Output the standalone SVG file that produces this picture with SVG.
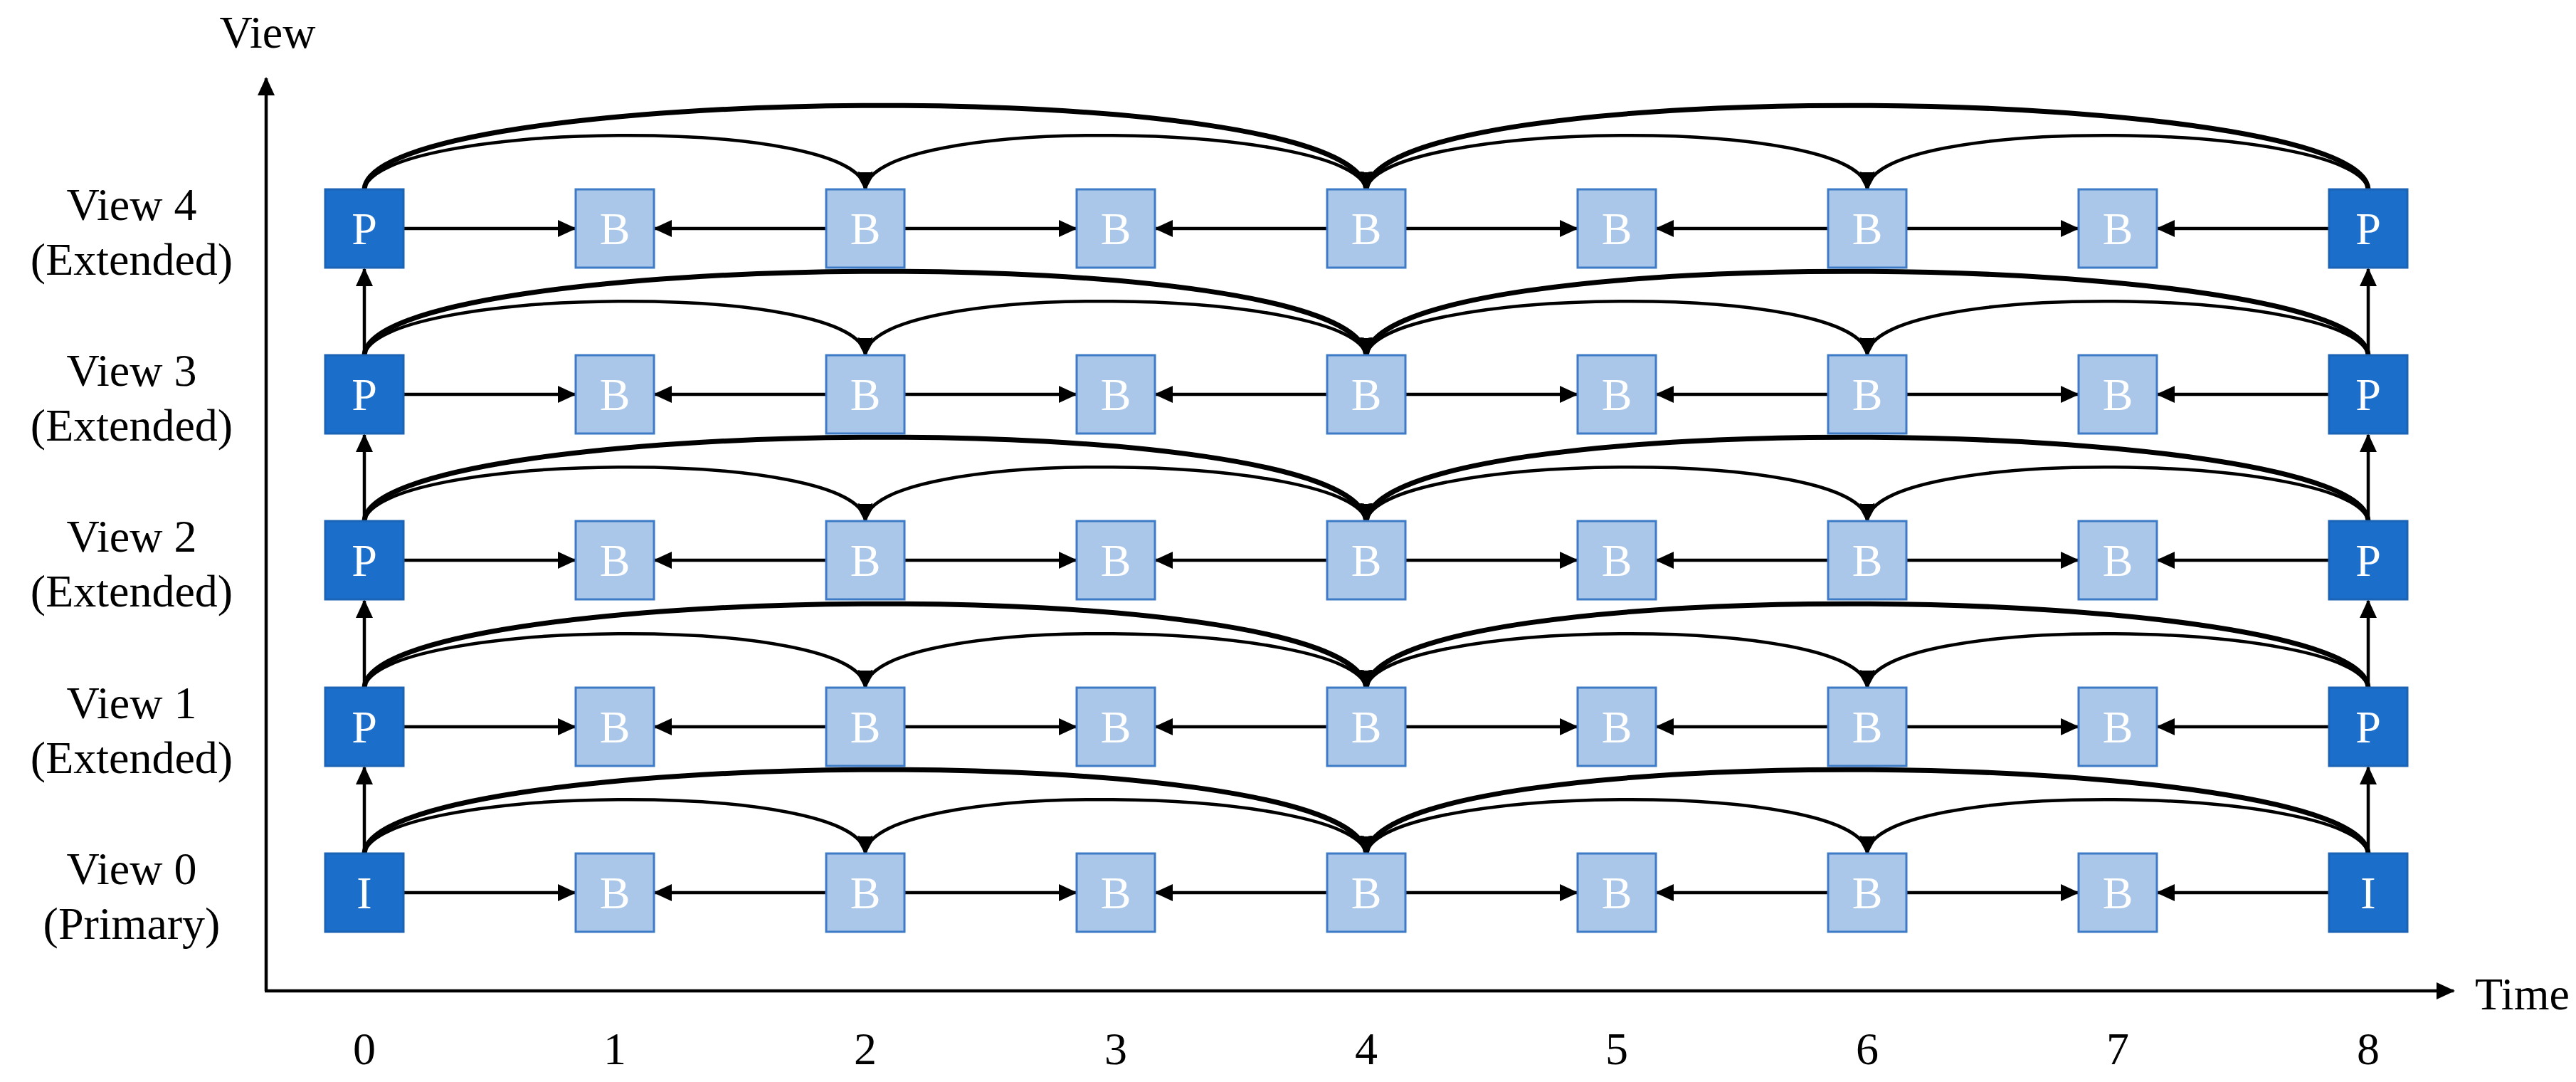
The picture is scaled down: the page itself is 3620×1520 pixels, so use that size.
<svg xmlns="http://www.w3.org/2000/svg" width="3620" height="1520" viewBox="0 0 3620 1520">
<style>
text{font-family:"Liberation Serif","Times New Roman",serif;fill:#000}
.lab{font-size:64px;text-anchor:middle}
.bl{font-size:64px;text-anchor:middle;fill:#fff}
.d{fill:#1b6fcb;stroke:#1a63b5;stroke-width:3}
.l{fill:#aac7e9;stroke:#3d7bc6;stroke-width:3}
.c{fill:none;stroke:#000;stroke-width:4.5}
.h{fill:none;stroke:#000;stroke-width:7}
.lo{fill:none;stroke:#000;stroke-width:4.5}
</style>
<defs>
<marker id="a" markerUnits="userSpaceOnUse" markerWidth="26" markerHeight="24" refX="24" refY="12" orient="auto"><path d="M0,0 L26,12 L0,24 Z" fill="#000"/></marker>
</defs>
<g id="axes">
<line class="c" x1="374" y1="1392" x2="374" y2="110" marker-end="url(#a)"/>
<line class="c" x1="372" y1="1392" x2="3448" y2="1392" marker-end="url(#a)"/>
<text class="lab" x="376" y="67">View</text>
<text x="3478" y="1418" style="font-size:64px">Time</text>
<g class="lab">
<text x="512" y="1495">0</text><text x="864" y="1495">1</text><text x="1216" y="1495">2</text><text x="1568" y="1495">3</text><text x="1920" y="1495">4</text><text x="2272" y="1495">5</text><text x="2624" y="1495">6</text><text x="2976" y="1495">7</text><text x="3328" y="1495">8</text>
</g>
</g>
<g id="labels" class="lab">
<text x="185" y="309">View 4</text><text x="185" y="386">(Extended)</text>
<text x="185" y="542">View 3</text><text x="185" y="619">(Extended)</text>
<text x="185" y="775">View 2</text><text x="185" y="852">(Extended)</text>
<text x="185" y="1009">View 1</text><text x="185" y="1086">(Extended)</text>
<text x="185" y="1242">View 0</text><text x="185" y="1319">(Primary)</text>
</g>
<g id="connectors">
<line class="c" x1="512" y1="1199" x2="512" y2="1078" marker-end="url(#a)"/>
<line class="c" x1="512" y1="966" x2="512" y2="844" marker-end="url(#a)"/>
<line class="c" x1="512" y1="732" x2="512" y2="611" marker-end="url(#a)"/>
<line class="c" x1="512" y1="499" x2="512" y2="378" marker-end="url(#a)"/>
<line class="c" x1="3328" y1="1199" x2="3328" y2="1078" marker-end="url(#a)"/>
<line class="c" x1="3328" y1="966" x2="3328" y2="844" marker-end="url(#a)"/>
<line class="c" x1="3328" y1="732" x2="3328" y2="611" marker-end="url(#a)"/>
<line class="c" x1="3328" y1="499" x2="3328" y2="378" marker-end="url(#a)"/>
<g id="rows">
<g id="r4"><line class="c" x1="567" y1="321" x2="808" y2="321" marker-end="url(#a)"/><line class="c" x1="1161" y1="321" x2="920" y2="321" marker-end="url(#a)"/><line class="c" x1="1271" y1="321" x2="1512" y2="321" marker-end="url(#a)"/><line class="c" x1="1865" y1="321" x2="1624" y2="321" marker-end="url(#a)"/><line class="c" x1="1975" y1="321" x2="2216" y2="321" marker-end="url(#a)"/><line class="c" x1="2569" y1="321" x2="2328" y2="321" marker-end="url(#a)"/><line class="c" x1="2679" y1="321" x2="2920" y2="321" marker-end="url(#a)"/><line class="c" x1="3273" y1="321" x2="3032" y2="321" marker-end="url(#a)"/>
<path class="h" d="M512,266 C520,118 1900,100 1920,266" marker-end="url(#a)"/><path class="h" d="M3328,266 C3320,118 1940,100 1920,266" marker-end="url(#a)"/>
<path class="lo" d="M512,266 C530,170 1210,160 1216,266" marker-end="url(#a)"/><path class="lo" d="M1920,266 C1902,170 1222,160 1216,266" marker-end="url(#a)"/>
<path class="lo" d="M1920,266 C1938,170 2618,160 2624,266" marker-end="url(#a)"/><path class="lo" d="M3328,266 C3310,170 2630,160 2624,266" marker-end="url(#a)"/></g>
<use href="#r4" y="233"/><use href="#r4" y="466"/><use href="#r4" y="700"/><use href="#r4" y="933"/>
</g>
</g>
<g id="nodes">
<g id="col0"><rect class="d" x="457" y="266" width="110" height="110"/><text class="bl" x="512" y="343">P</text>
<rect class="d" x="457" y="499" width="110" height="110"/><text class="bl" x="512" y="576">P</text>
<rect class="d" x="457" y="732" width="110" height="110"/><text class="bl" x="512" y="809">P</text>
<rect class="d" x="457" y="966" width="110" height="110"/><text class="bl" x="512" y="1043">P</text>
<rect class="d" x="457" y="1199" width="110" height="110"/><text class="bl" x="512" y="1276">I</text></g>
<g id="col8"><rect class="d" x="3273" y="266" width="110" height="110"/><text class="bl" x="3328" y="343">P</text>
<rect class="d" x="3273" y="499" width="110" height="110"/><text class="bl" x="3328" y="576">P</text>
<rect class="d" x="3273" y="732" width="110" height="110"/><text class="bl" x="3328" y="809">P</text>
<rect class="d" x="3273" y="966" width="110" height="110"/><text class="bl" x="3328" y="1043">P</text>
<rect class="d" x="3273" y="1199" width="110" height="110"/><text class="bl" x="3328" y="1276">I</text></g>
<g id="brow4">
<rect class="l" x="809" y="266" width="110" height="110"/><text class="bl" x="864" y="343">B</text>
<rect class="l" x="1161" y="266" width="110" height="110"/><text class="bl" x="1216" y="343">B</text>
<rect class="l" x="1513" y="266" width="110" height="110"/><text class="bl" x="1568" y="343">B</text>
<rect class="l" x="1865" y="266" width="110" height="110"/><text class="bl" x="1920" y="343">B</text>
<rect class="l" x="2217" y="266" width="110" height="110"/><text class="bl" x="2272" y="343">B</text>
<rect class="l" x="2569" y="266" width="110" height="110"/><text class="bl" x="2624" y="343">B</text>
<rect class="l" x="2921" y="266" width="110" height="110"/><text class="bl" x="2976" y="343">B</text>
</g>
<use id="brow3" href="#brow4" y="233"/><use id="brow2" href="#brow4" y="466"/><use id="brow1" href="#brow4" y="700"/><use id="brow0" href="#brow4" y="933"/>
</g>
</svg>
